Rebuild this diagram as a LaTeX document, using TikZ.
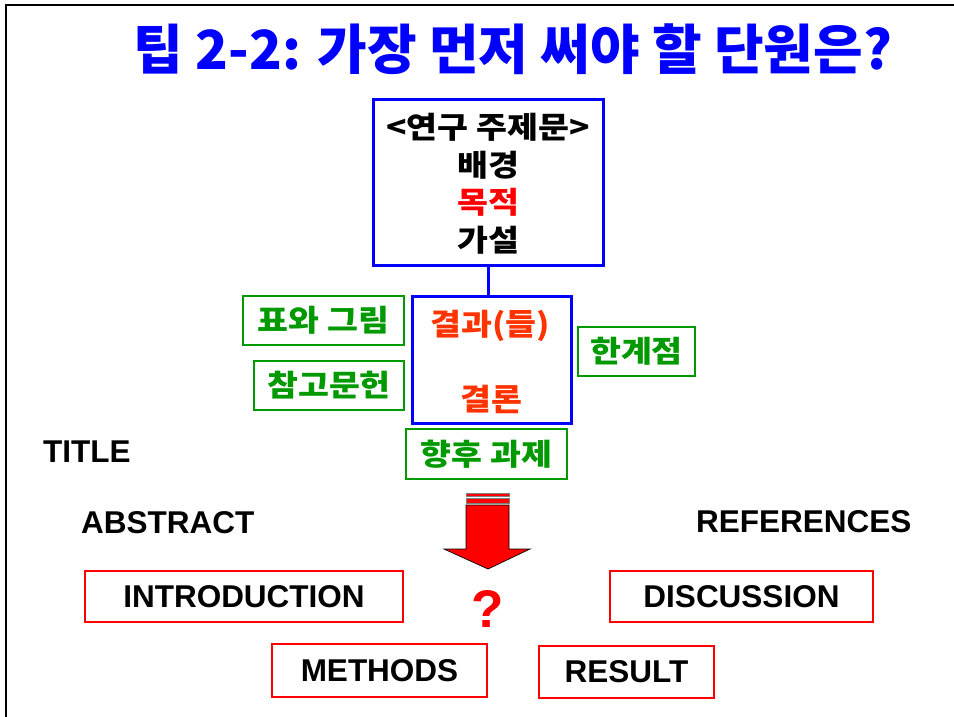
\documentclass[tikz,border=0pt]{standalone}
\usepackage{fontspec}
\usepackage{graphicx}
\setmainfont{Liberation Sans}
\newfontfamily\krb{Noto Sans CJK KR Black}[FakeStretch=1.12]
\newfontfamily\krblack{Noto Sans CJK KR Black}
\newfontfamily\lsb{Liberation Sans Bold}
\definecolor{grn}{RGB}{0,153,0}
\definecolor{ored}{RGB}{255,51,0}
\definecolor{tblue}{RGB}{0,0,255}
\tikzset{
  bluebox/.style={draw=tblue, line width=3pt, inner sep=0pt},
  greenbox/.style={draw=grn, line width=2.5pt, inner sep=0pt, text=grn, font=\krb\fontsize{30}{30}\selectfont},
  redbox/.style={draw=red, line width=2.5pt, inner sep=0pt, font=\lsb\fontsize{31.5}{32}\selectfont},
  krtext/.style={inner sep=0pt, anchor=base, font=\krb\fontsize{30}{30}\selectfont},
  entext/.style={inner sep=0pt, anchor=base west, font=\lsb\fontsize{31.5}{32}\selectfont},
}
\begin{document}
\begin{tikzpicture}[x=1pt,y=-1pt]
\useasboundingbox (0,0) rectangle (954,717);
\fill[white] (0,0) rectangle (954,717);
% frame
\draw[line width=2.5pt] (6,717) -- (6,5) -- (954,5);
% title
\node[inner sep=0pt, text=tblue] (title) at (513,49)
  {\resizebox{758pt}{!}{\krblack\fontsize{52}{52}\selectfont 팁 2-2: 가장 먼저 써야 할 단원은?}};
% top box
\node[bluebox, minimum width=230pt, minimum height=165pt] (topbox) at (488,182.5) {};
\node[krtext] (l1) at (488,139) {<연구 주제문>};
\node[krtext] (l2) at (488,176) {배경};
\node[krtext, text=red] (l3) at (488,213) {목적};
\node[krtext] (l4) at (488,251) {가설};
% lower box
\node[bluebox, minimum width=159pt, minimum height=127pt] (lowbox) at (491.5,359.5) {};
\node[krtext, text=ored] (res) at (490,335) {결과(들)};
\node[krtext, text=ored] (con) at (491,410) {결론};
\draw[tblue, line width=3pt] (topbox.south) -- (topbox.south |- lowbox.north);
% green boxes
\node[greenbox, minimum width=161pt, minimum height=49pt] (fig) at (323.5,320.5) {표와 그림};
\node[greenbox, minimum width=150pt, minimum height=49pt] (ref) at (329,385.5) {참고문헌};
\node[greenbox, minimum width=117pt, minimum height=49pt] (lim) at (636.5,351.5) {한계점};
\node[greenbox, minimum width=161pt, minimum height=50pt] (fut) at (486.5,454) {향후 과제};
% plain labels
\node[entext] (ttl) at (43,462) {TITLE};
\node[entext] (abs) at (81,533) {ABSTRACT};
\node[entext] (refs) at (696,532) {REFERENCES};
% red boxes
\node[redbox, minimum width=318pt, minimum height=51pt] (intro) at (244,596.5) {INTRODUCTION};
\node[redbox, minimum width=215pt, minimum height=53pt] (meth) at (379.5,670.5) {METHODS};
\node[redbox, minimum width=175pt, minimum height=52pt] (result) at (626.5,672) {RESULT};
\node[redbox, minimum width=263pt, minimum height=51pt] (disc) at (741.5,596.5) {DISCUSSION};
% arrow
\filldraw[fill=red, draw=gray, line width=0.8pt] (466,493) rectangle (509,496);
\filldraw[fill=red, draw=gray, line width=0.8pt] (466,498) rectangle (509,503);
\filldraw[fill=red, draw=black, line width=0.7pt]
  (466,505) -- (509,505) -- (509,549) -- (530,549) -- (488,569) -- (444,549) -- (466,549) -- cycle;
% question mark
\node[inner sep=0pt, anchor=base, text=red, font=\lsb\fontsize{53}{53}\selectfont] (q) at (488,627) {?};
\end{tikzpicture}
\end{document}
